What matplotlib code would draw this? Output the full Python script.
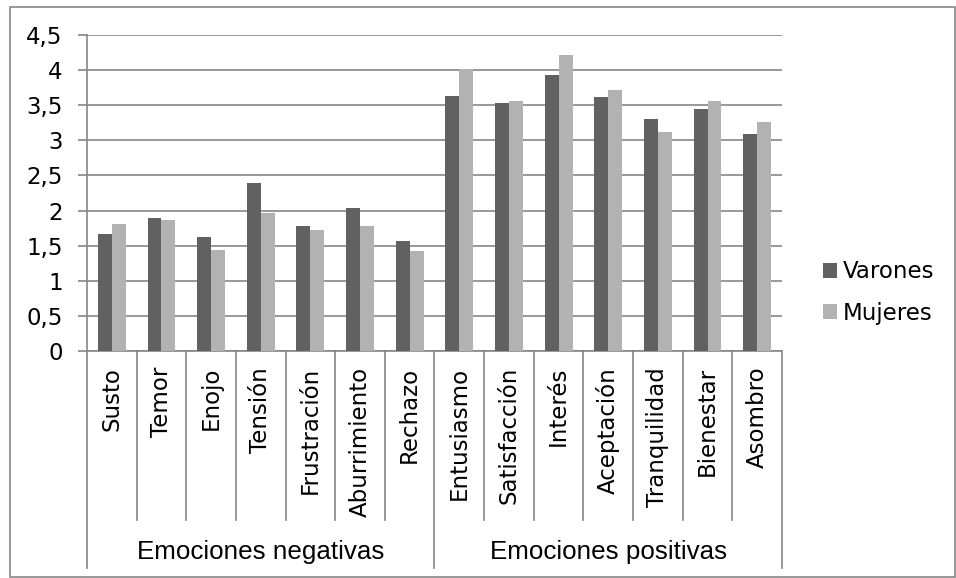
import matplotlib
matplotlib.use("Agg")
import matplotlib.pyplot as plt
from matplotlib.patches import Rectangle
import matplotlib.transforms as mtransforms

plt.rcParams['font.family'] = ['DejaVu Sans']

categories = ["Susto", "Temor", "Enojo", "Tensión", "Frustración", "Aburrimiento", "Rechazo",
              "Entusiasmo", "Satisfacción", "Interés", "Aceptación", "Tranquilidad", "Bienestar", "Asombro"]
groups = ["Emociones negativas", "Emociones positivas"]
group_sizes = [7, 7]
varones = [1.66, 1.90, 1.63, 2.39, 1.78, 2.03, 1.57, 3.63, 3.53, 3.93, 3.61, 3.30, 3.45, 3.09]
mujeres = [1.81, 1.86, 1.44, 1.96, 1.73, 1.78, 1.43, 4.02, 3.56, 4.21, 3.71, 3.12, 3.56, 3.26]
yticks = [0, 0.5, 1, 1.5, 2, 2.5, 3, 3.5, 4, 4.5]
ytick_labels = ["0", "0,5", "1", "1,5", "2", "2,5", "3", "3,5", "4", "4,5"]

dark = "#616161"
light = "#b2b2b2"
gridc = "#868686"
fs = 16.5

fig = plt.figure(figsize=(9.56, 5.78), dpi=100)
ax = fig.add_axes([87/956, 1-351/578, (782-87)/956, (351-35)/578])

x = list(range(len(categories)))
w = 0.28
ax.bar([i - w/2 for i in x], varones, width=w, color=dark, label="Varones", zorder=3)
ax.bar([i + w/2 for i in x], mujeres, width=w, color=light, label="Mujeres", zorder=3)

ax.set_xlim(-0.5, len(categories) - 0.5)
ax.set_ylim(0, 4.5)
ax.set_yticks(yticks)
ax.set_yticklabels(ytick_labels, fontsize=fs)
ax.yaxis.grid(True, color=gridc, linewidth=1.2, zorder=0)
ax.tick_params(axis='y', length=6.5, width=1.2, color=gridc, pad=11)
ax.set_xticks([])
for s in ['top', 'right']:
    ax.spines[s].set_visible(False)
for s in ['left', 'bottom']:
    ax.spines[s].set_color(gridc)
    ax.spines[s].set_linewidth(1.2)

trans = mtransforms.blended_transform_factory(ax.transData, ax.transAxes)
# category labels and separators
for i, c in enumerate(categories):
    ax.text(i, -0.05, c, rotation=90, ha='center', va='top', fontsize=fs,
            transform=trans)
bounds = [0]
for g in group_sizes:
    bounds.append(bounds[-1] + g)
for b in range(len(categories) + 1):
    y_end = -0.687 if b in bounds else -0.535
    ax.plot([b - 0.5, b - 0.5], [0, y_end], color=gridc, linewidth=1.2,
            transform=trans, clip_on=False)
for gi, g in enumerate(groups):
    center = (bounds[gi] + bounds[gi + 1]) / 2 - 0.5
    ax.text(center, -0.636, g, ha='center', va='center', fontsize=18.7,
            family=['Liberation Sans', 'DejaVu Sans'], transform=trans)

leg = fig.legend(loc='center left', bbox_to_anchor=(802/956, 1-292.5/578), frameon=False,
                 fontsize=fs, handlelength=0.61, handleheight=0.61, handletextpad=0.26,
                 labelspacing=0.8)

fig.patches.append(Rectangle((9.5/956, 1/578), (955-9.5)/956, (577-6.5)/578, transform=fig.transFigure,
                             fill=False, edgecolor=gridc, linewidth=1.2))

fig.savefig("out.png", dpi=100)
